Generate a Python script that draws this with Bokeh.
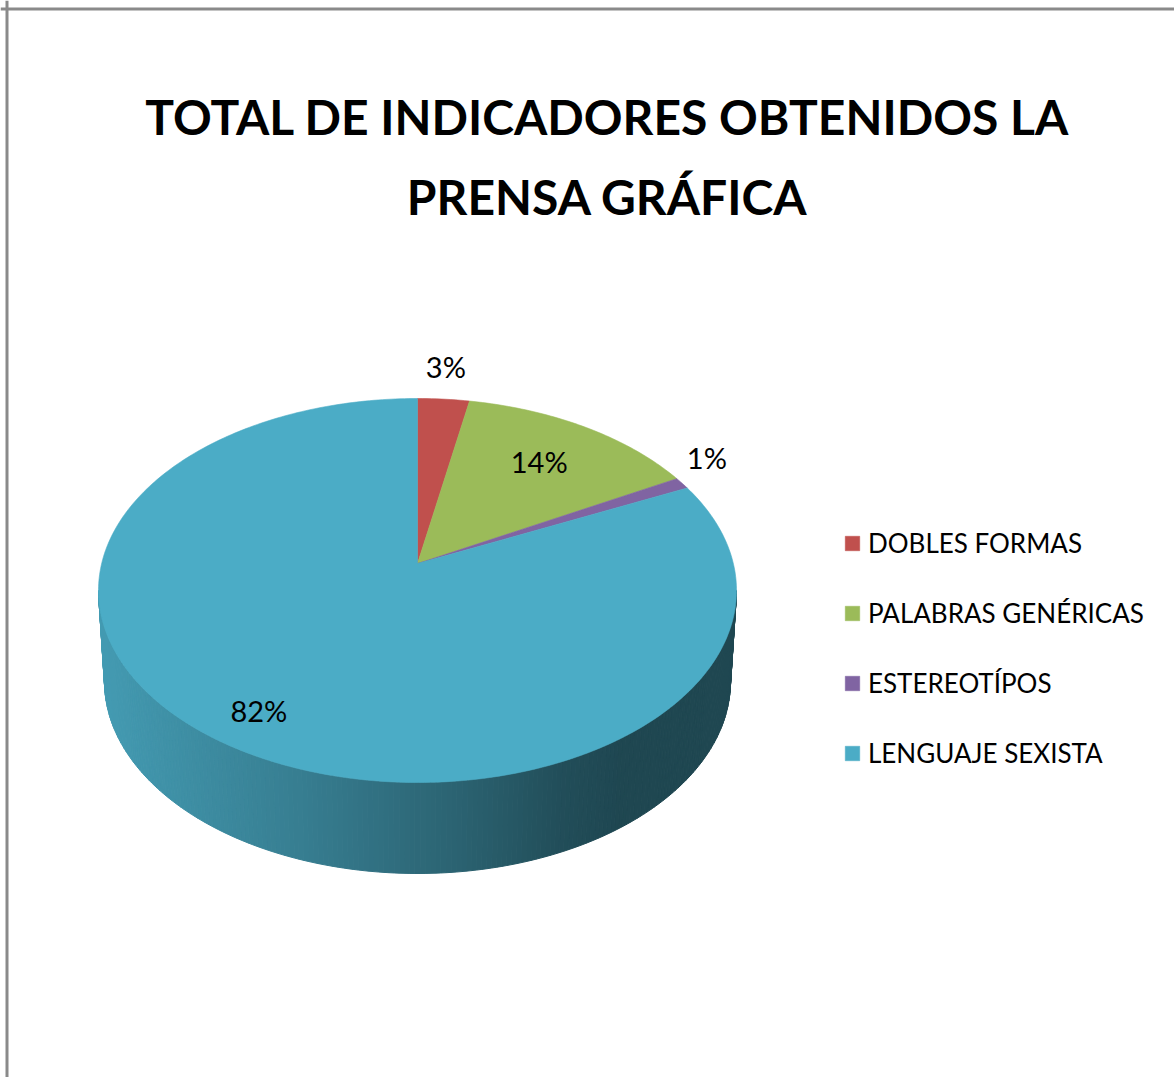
import numpy as np
from bokeh.plotting import figure
from bokeh.models import Range1d, Legend, LegendItem, Span
from bokeh.core.properties import value
from bokeh.embed import file_html
from bokeh.resources import INLINE

# ---------------- data ----------------
categories = ["DOBLES FORMAS", "PALABRAS GENÉRICAS", "ESTEREOTÍPOS", "LENGUAJE SEXISTA"]
percentages = [3, 14, 1, 82]
colors = ["#C0504D", "#9BBB59", "#8064A2", "#4BACC6"]
title_lines = ["TOTAL DE INDICADORES OBTENIDOS LA", "PRENSA GRÁFICA"]

# ---------------- layout / geometry ----------------
W, H = 1174, 1077
CX, CY = 417, 590          # centre of the top ellipse (pixel-like data units)
RX, RY = 319, 192          # semi axes of the top face
DEPTH = 91                 # thickness of the pie
RX_B = 313                 # bottom ellipse slightly narrower (perspective)
PERSP = 0.14               # perspective shift of the centre
FONT = "Lato"


def project(theta, r=1.0, bottom=False):
    theta = np.asarray(theta, dtype=float)
    u = r * np.sin(theta)
    v = r * np.cos(theta)
    d = 1 + PERSP * v
    up = u * np.sqrt(1 - PERSP ** 2) / d
    vp = (v + PERSP) / d
    rx = RX_B if bottom else RX
    cy = CY + DEPTH if bottom else CY
    return CX + rx * up, cy - RY * vp


def shade(hex_color, f):
    h = hex_color.lstrip("#")
    rgb = [int(h[i:i + 2], 16) for i in (0, 2, 4)]
    return "#%02x%02x%02x" % tuple(max(0, min(255, int(round(c * f)))) for c in rgb)


total = float(sum(percentages))
fracs = np.array(percentages) / total
ends = np.cumsum(fracs) * 2 * np.pi
starts = ends - fracs * 2 * np.pi

p = figure(width=W, height=H, output_backend="svg", toolbar_location=None,
           x_range=Range1d(0, W), y_range=Range1d(H, 0),
           x_axis_type=None, y_axis_type=None,
           min_border=0, min_border_left=0, min_border_right=0,
           min_border_top=0, min_border_bottom=0)
p.grid.visible = False
p.outline_line_color = None
p.background_fill_color = "white"

# frame lines (top and left visible in the reference)
p.add_layout(Span(location=8.5, dimension="width", line_color="#8a8a8a", line_width=3))
p.add_layout(Span(location=6.5, dimension="height", line_color="#8a8a8a", line_width=3))

# ---------------- side of the pie (front half) ----------------
th_right = np.arccos(-PERSP)
th_left = 2 * np.pi - th_right
edges = np.linspace(th_right, th_left, 200)
stop_x = [100, 300, 450, 560, 620, 748]
stop_f = [0.90, 0.73, 0.58, 0.45, 0.41, 0.41]
side_xs, side_ys, side_cols = [], [], []
for t0, t1 in zip(edges[:-1], edges[1:]):
    xt, yt = project([t0, t1])
    xb, yb = project([t1, t0], bottom=True)
    mid = 0.5 * (t0 + t1)
    idx = int(np.searchsorted(ends, mid % (2 * np.pi)))
    idx = min(idx, len(colors) - 1)
    xm = 0.25 * (xt.sum() + xb.sum())
    col = shade(colors[idx], float(np.interp(xm, stop_x, stop_f)))
    side_xs.append(list(xt) + list(xb))
    side_ys.append(list(yt) + list(yb))
    side_cols.append(col)
p.patches(xs=side_xs, ys=side_ys, fill_color=side_cols, line_color=side_cols, line_width=1)

# ---------------- top face ----------------
ax, ay = project(0.0, r=0.0)
renderers = []
for cat, a0, a1, col in zip(categories, starts, ends, colors):
    n = max(3, int((a1 - a0) / (2 * np.pi) * 400))
    th = np.linspace(a0, a1, n)
    xs, ys = project(th)
    r = p.patch(x=[float(ax)] + list(xs), y=[float(ay)] + list(ys),
                fill_color=col, line_color=col, line_width=0.6)
    renderers.append(r)

# ---------------- data labels ----------------
lx, ly, lt = [], [], []
for pct, fr, a0, a1 in zip(percentages, fracs, starts, ends):
    mid = 0.5 * (a0 + a1)
    outside = pct < 5
    rr = 1.1 if outside else 0.68 + 0.2 * fr
    x, y = project(mid, r=rr)
    lx.append(float(x))
    ly.append(float(y) - (18 if outside else 2))
    lt.append(f"{pct}%")
p.text(x=lx, y=ly, text=lt, text_font=value(FONT), text_font_size="29px",
       text_align="center", text_baseline="middle", text_color="#000000")

# ---------------- title ----------------
p.text(x=[607, 607], y=[116, 196], text=title_lines, text_font=value(FONT),
       text_font_style="bold", text_font_size="48px", text_align="center",
       text_baseline="alphabetic", text_color="#000000")

# ---------------- legend ----------------
legend = Legend(items=[LegendItem(label=c, renderers=[r]) for c, r in zip(categories, renderers)],
                location=(843, 308), orientation="vertical",
                glyph_width=18, glyph_height=18, label_standoff=7,
                label_text_font=FONT, label_text_font_size="26px",
                label_text_color="#000000", spacing=38, padding=0, margin=0,
                border_line_color=None, background_fill_alpha=0)
p.add_layout(legend)

open("out.html", "w").write(file_html(p, INLINE))
